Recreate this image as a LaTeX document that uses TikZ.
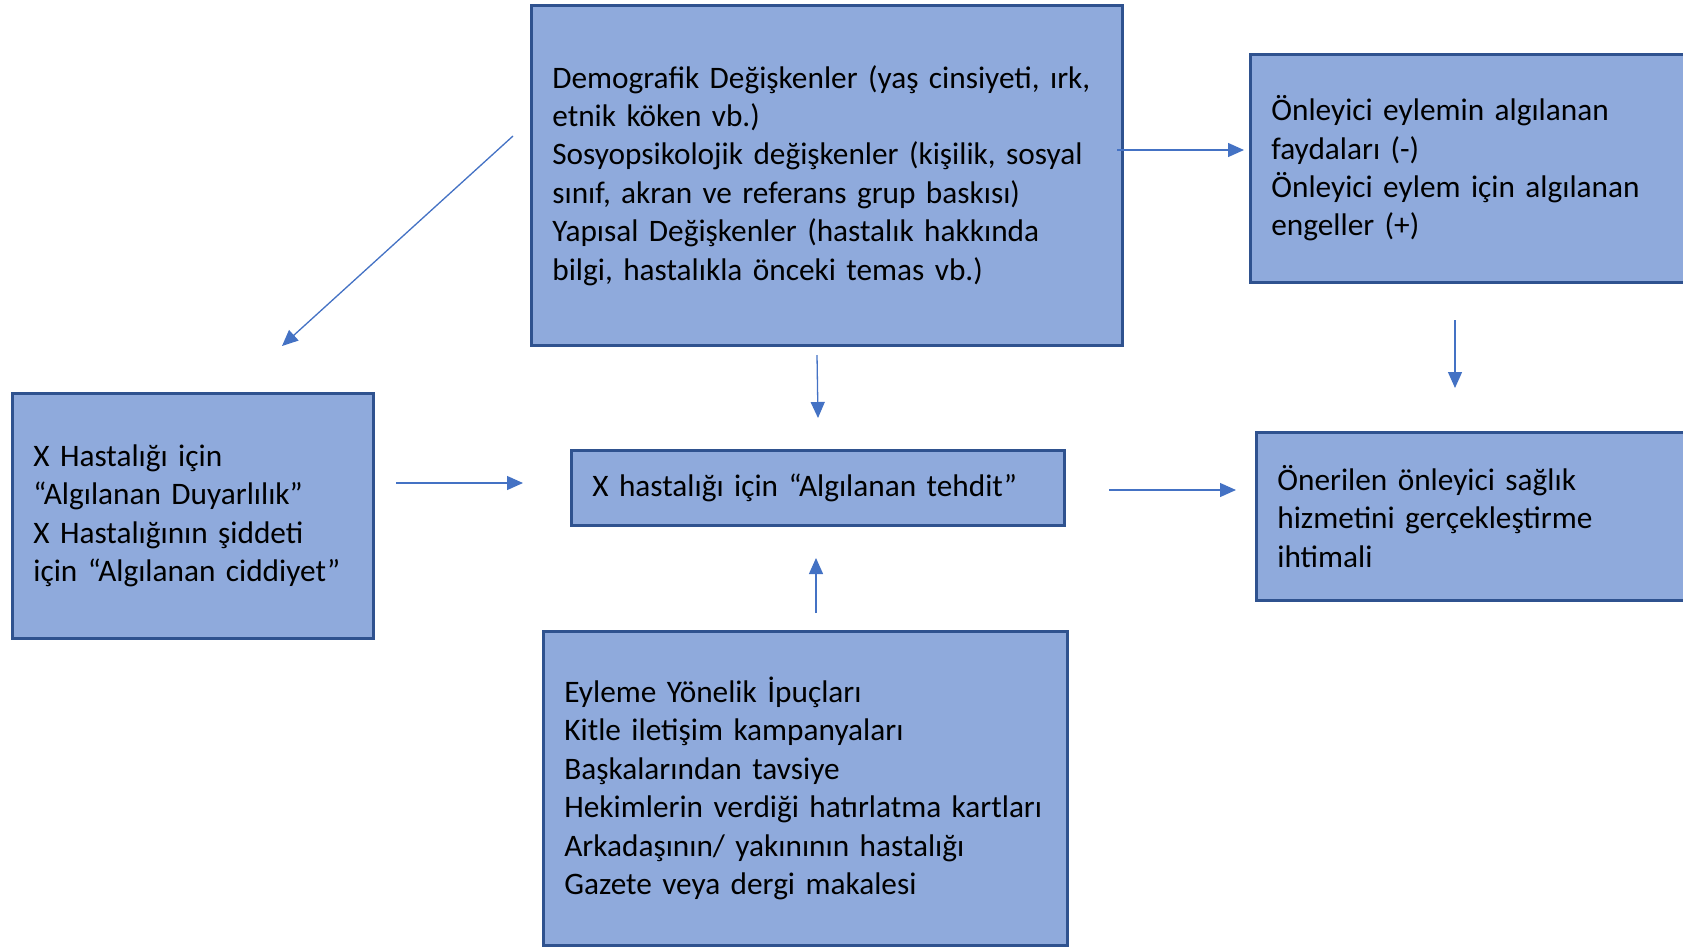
\documentclass[tikz,border=0pt]{standalone}
\usepackage{fontspec}
\setmainfont{Carlito}
\usetikzlibrary{arrows.meta}
\definecolor{boxfill}{HTML}{8FAADC}
\definecolor{boxline}{HTML}{2F528F}
\definecolor{arrowblue}{HTML}{4472C4}
\begin{document}
\begin{tikzpicture}[x=1pt,y=-1pt,
  box/.style={draw=boxline, line width=2.7pt, fill=boxfill, rectangle, anchor=north west,
    inner xsep=21pt, inner ysep=0pt, align=left, font=\fontsize{31.3}{38.4}\selectfont},
  conn/.style={draw=arrowblue, line width=1.3pt, -{Triangle[length=16pt,width=14pt]}}]
\useasboundingbox (0,0) rectangle (1683,946);
\clip (0,0) rectangle (1683,946);

\node[box, minimum width=591pt, minimum height=340pt, text width=549pt] (demo) at (530,4)
  {Demografik Değişkenler (yaş cinsiyeti, ırk,\\ etnik köken vb.)\\ Sosyopsikolojik değişkenler (kişilik, sosyal\\ sınıf, akran ve referans grup baskısı)\\ Yapısal Değişkenler (hastalık hakkında\\ bilgi, hastalıkla önceki temas vb.)};

\node[box, minimum width=480pt, minimum height=228pt, text width=438pt] (benefit) at (1249,53)
  {Önleyici eylemin algılanan\\ faydaları (-)\\ Önleyici eylem için algılanan\\ engeller (+)};

\node[box, minimum width=480pt, minimum height=168pt, text width=438pt] (lik) at (1255,431)
  {Önerilen önleyici sağlık\\ hizmetini gerçekleştirme\\ ihtimali};

\node[box, minimum width=361pt, minimum height=245pt, text width=319pt] (susc) at (11,392)
  {X Hastalığı için\\ “Algılanan Duyarlılık”\\ X Hastalığının şiddeti\\ için “Algılanan ciddiyet”};

\node[box, minimum width=493pt, minimum height=75pt, text width=451pt] (threat) at (570,449)
  {X hastalığı için “Algılanan tehdit”};

\node[box, minimum width=524pt, minimum height=314pt, text width=482pt] (cues) at (542,630)
  {Eyleme Yönelik İpuçları\\ Kitle iletişim kampanyaları\\ Başkalarından tavsiye\\ Hekimlerin verdiği hatırlatma kartları\\ Arkadaşının/ yakınının hastalığı\\ Gazete veya dergi makalesi};

\coordinate (dgS) at (513,136);  \coordinate (dgE) at (282,346);
\coordinate (dtS) at (817,355);  \coordinate (dtE) at (818,418);
\coordinate (ctS) at (816,613);  \coordinate (ctE) at (816,558);
\coordinate (stS) at (396,483);  \coordinate (stE) at (523,483);
\coordinate (tlS) at (1109,490); \coordinate (tlE) at (1236,490);
\coordinate (dbS) at (1117,150); \coordinate (dbE) at (1244,150);
\coordinate (blS) at (1455,320); \coordinate (blE) at (1455,388);

\draw[conn] (dgS) -- (dgE);
\draw[conn] (dtS) -- (dtE);
\draw[conn] (ctS) -- (ctE);
\draw[conn] (stS) -- (stE);
\draw[conn] (tlS) -- (tlE);
\draw[conn] (dbS) -- (dbE);
\draw[conn] (blS) -- (blE);
\end{tikzpicture}
\end{document}
